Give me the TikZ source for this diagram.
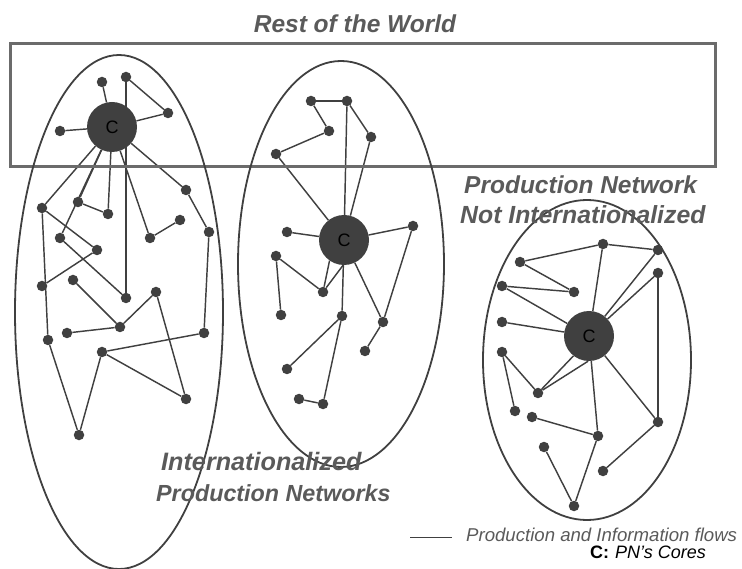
\documentclass[tikz,border=0pt]{standalone}
\usepackage{fontspec}
\setmainfont{Liberation Sans}
\usepackage{tikz}
\usetikzlibrary{positioning,backgrounds}
\definecolor{ink}{HTML}{404040}
\definecolor{labelgray}{HTML}{5A5A5A}
\tikzset{
  dot/.style={circle,fill=ink,inner sep=0pt,minimum size=10.5pt},
  core/.style={circle,fill=ink,inner sep=0pt,minimum size=50pt,font=\fontsize{18}{18}\selectfont,text=black},
  flow/.style={ink,line width=1.45pt},
  bigtitle/.style={text=labelgray,font=\fontsize{24.5}{29}\selectfont\bfseries\itshape,inner sep=0pt},
}

\begin{document}
\begin{tikzpicture}[x=1pt,y=-1pt]
\useasboundingbox (0,0) rectangle (742,569);
\draw[color=labelgray!90,line width=3pt] (10,44) rectangle (715,167);
\draw[ink,line width=1.8pt] (119,312) ellipse [x radius=104,y radius=257];
\draw[ink,line width=1.8pt] (341,264) ellipse [x radius=103,y radius=203];
\draw[ink,line width=1.8pt] (587,360) ellipse [x radius=104,y radius=160];

% cores
\node[core] (cl) at (112,127) {C};
\node[core] (cm) at (344,240) {C};
\node[core] (cr) at (589,336) {C};

% firms of each network
\foreach \n/\x/\y in {a1/102/82, a2/126/77, a3/168/113, a4/60/131, a5/186/190,
  a6/42/208, a7/78/202, a8/108/214, a9/180/220, a10/209/232, a11/150/238,
  a12/60/238, a13/97/250, a14/42/286, a15/73/280, a16/126/298, a17/156/292,
  a18/120/327, a19/67/333, a20/48/340, a21/204/333, a22/102/352, a23/186/399,
  a24/79/435}
  \node[dot] (\n) at (\x,\y) {};
\foreach \n/\x/\y in {b1/311/101, b2/347/101, b3/329/131, b4/371/137, b5/276/154,
  b6/287/232, b7/413/226, b8/276/256, b9/323/292, b10/281/315, b11/342/316,
  b12/383/322, b13/365/351, b14/287/369, b15/299/399, b16/323/404}
  \node[dot] (\n) at (\x,\y) {};
\foreach \n/\x/\y in {c1/603/244, c2/658/250, c3/520/262, c4/658/273, c5/502/286,
  c6/574/292, c7/502/322, c8/502/352, c9/538/393, c10/515/411, c11/532/417,
  c12/658/422, c13/598/436, c14/544/447, c15/603/471, c16/574/506}
  \node[dot] (\n) at (\x,\y) {};

\begin{scope}[on background layer]
\foreach \u/\v in {a1/cl, a2/a3, a3/cl, a2/a16, a4/cl, cl/a5, a5/a10, a10/a21,
  a21/a22, a22/a23, a22/a24, a24/a20, a20/a6, a6/cl, a6/a13, a13/a14, a12/cl,
  a12/a16, a7/cl, a7/a8, a8/cl, cl/a11, a11/a9, a15/a18, a18/a17, a17/a23, a18/a19}
  \draw[flow] (\u) -- (\v);
\foreach \u/\v in {b1/b2, b1/b3, b3/b5, b5/cm, b2/cm, b2/b4, b4/cm, b6/cm, cm/b7,
  b7/b12, cm/b12, b12/b13, b8/b9, b8/b10, cm/b11, b11/b14, b11/b16, b15/b16}
  \draw[flow] (\u) -- (\v);
\draw[flow] (b9) -- (cm.235);
\draw[flow] (b9) -- (cm.268);
\foreach \u/\v in {c1/c2, c1/cr, c3/c1, c3/c6, c5/c6, c5/cr, c7/cr, c2/cr, c4/cr,
  c4/c12, cr/c12, c12/c15, c8/c9, c8/c10, cr/c13, c11/c13, c13/c16, c14/c16}
  \draw[flow] (\u) -- (\v);
\draw[flow] (c9) -- (cr.232);
\draw[flow] (c9) -- (cr.268);
\end{scope}

% labels
\node[bigtitle,anchor=base] (world) at (355,33) {Rest of the World};
\node[bigtitle,anchor=base west] (pnn1) at (464,194) {Production Network};
\node[bigtitle,anchor=base west,font=\fontsize{24.8}{29}\selectfont\bfseries\itshape] (pnn2) at (460,224) {Not Internationalized};
\node[bigtitle,anchor=base west,font=\fontsize{25.2}{29}\selectfont\bfseries\itshape] (ipn1) at (161,470) {Internationalized};
\node[bigtitle,anchor=base west,font=\fontsize{23.3}{29}\selectfont\bfseries\itshape] (ipn2) at (156,501) {Production Networks};

% legend
\coordinate (flowa) at (410,537);
\coordinate (flowb) at (452,537);
\draw[ink,line width=1pt] (flowa) -- (flowb);
\node[anchor=base west,inner sep=0pt,text=labelgray,font=\fontsize{18.6}{18}\selectfont\itshape] (flowtxt) at (466,541) {Production and Information flows};
\node[anchor=base west,inner sep=0pt,font=\fontsize{18}{18}\selectfont\bfseries] (ckey) at (590,558) {C:};
\node[anchor=base west,inner sep=0pt,font=\fontsize{18}{18}\selectfont\itshape] (ctxt) at (615,558) {PN's Cores};
\end{tikzpicture}
\end{document}
